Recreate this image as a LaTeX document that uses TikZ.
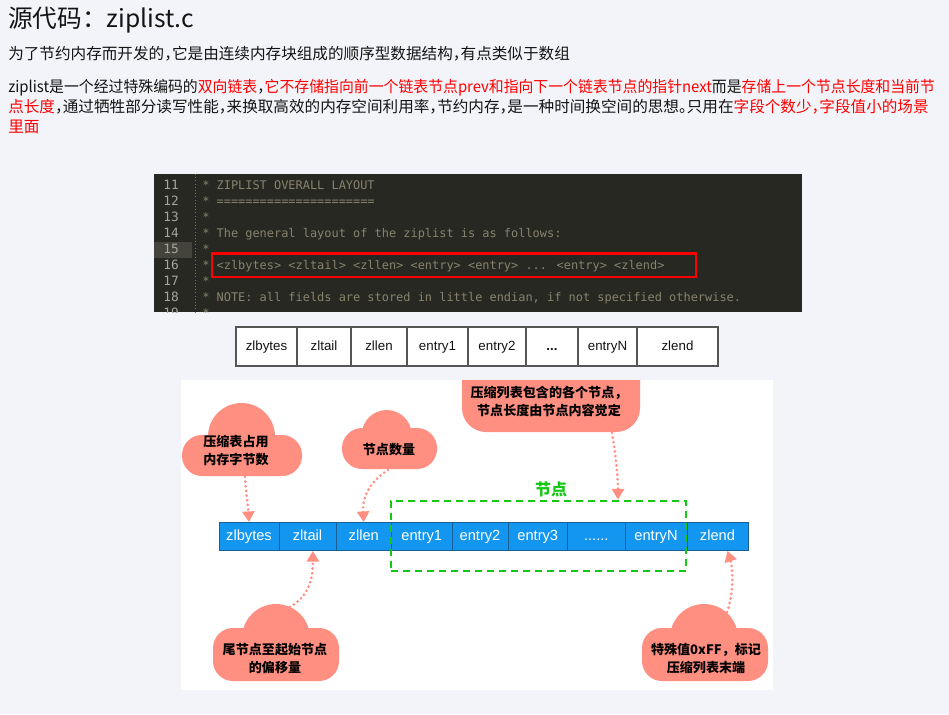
\documentclass[tikz,border=0pt]{standalone}
\usepackage{fontspec}
\setmainfont{Noto Sans CJK SC}
\newfontfamily\cjk{Noto Sans CJK SC}
\newfontfamily\cjkh[RawFeature=+halt]{Noto Sans CJK SC}
\newfontfamily\arialf{Liberation Sans}
\newfontfamily\monof{DejaVu Sans Mono}
\usetikzlibrary{arrows.meta}
\definecolor{pagebg}{RGB}{243,244,249}
\definecolor{codebg}{RGB}{39,40,34}
\definecolor{gutterhl}{RGB}{68,68,60}
\definecolor{comment}{RGB}{135,131,110}
\definecolor{lineno}{RGB}{165,165,155}
\definecolor{zred}{RGB}{255,0,0}
\definecolor{cellborder}{RGB}{85,85,85}
\definecolor{zblue}{RGB}{18,150,240}
\definecolor{zbluedark}{RGB}{25,95,150}
\definecolor{zgreen}{RGB}{20,200,20}
\definecolor{salmon}{RGB}{255,143,128}
\definecolor{txt}{RGB}{20,20,20}
\begin{document}
\begin{tikzpicture}[x=0.75pt,y=-0.75pt,
  title/.style={anchor=west,inner sep=0pt,text=txt,font=\cjk\fontsize{18.5pt}{22pt}\selectfont,text height=16.3pt,text depth=2.2pt},
  body/.style={anchor=west,inner sep=0pt,text=txt,font=\cjkh\fontsize{11.7pt}{14pt}\selectfont,text height=10.3pt,text depth=1.4pt},
  codeln/.style={anchor=west,inner sep=0pt,text=comment,font=\monof\fontsize{8.95pt}{11pt}\selectfont,text height=6.5pt,text depth=1.5pt},
  lnum/.style={anchor=east,inner sep=0pt,text=lineno,font=\monof\fontsize{9.6pt}{11pt}\selectfont,text height=7pt,text depth=1.5pt},
  tcell/.style={draw=cellborder,line width=0.9pt,fill=white,inner sep=0pt,minimum height=29.25pt,minimum width=#1*0.75pt,font=\arialf\fontsize{10pt}{12pt}\selectfont,text=txt,text height=7.5pt,text depth=2pt},
  bcell/.style={draw=zbluedark,line width=0.6pt,fill=zblue,inner sep=0pt,minimum height=21pt,minimum width=#1*0.75pt,font=\arialf\fontsize{11pt}{13pt}\selectfont,text=white,text height=8pt,text depth=2pt},
  cloudtxt/.style={inner sep=0pt,align=center,text=black,font=\cjk\bfseries\fontsize{9.8pt}{13.5pt}\selectfont},
  gbox/.style={draw=zgreen,line width=2.1pt,dash pattern=on 5.25pt off 3.75pt,inner sep=0pt,minimum width=221.25pt,minimum height=52.5pt},
  pointer/.style={draw=salmon,line width=2.2pt,dash pattern=on 0pt off 3.5pt,line cap=round,-{Triangle[length=8pt,width=9pt]}}
]
\useasboundingbox (0,0) rectangle (949,714);
\fill[pagebg] (0,0) rectangle (949,714);

% ---------- text ----------
\node[title] (title) at (8,18) {源代码：ziplist.c};
\node[body] (p1) at (8,54) {为了节约内存而开发的，它是由连续内存块组成的顺序型数据结构，有点类似于数组};
\node[body] (p2a) at (8,87) {\scalebox{0.953}[1]{ziplist是一个经过特殊编码的\textcolor{zred}{双向链表}，\textcolor{zred}{它不存储指向前一个链表节点prev和指向下一个链表节点的指针next}而是\textcolor{zred}{存储上一个节点长度和当前节}}};
\node[body] (p2b) at (8,107) {\textcolor{zred}{点长度}，通过牺牲部分读写性能，来换取高效的内存空间利用率，节约内存，是一种时间换空间的思想。只用在\textcolor{zred}{字段个数少，字段值小的场景}};
\node[body] (p2c) at (8,127) {\textcolor{zred}{里面}};

% ---------- code block ----------
\fill[codebg] (154,174) rectangle (802,312);
\fill[gutterhl] (154,242) rectangle (192,258);
\draw[lineno!60!codebg,line width=0.6pt,dash pattern=on 0.8pt off 1.6pt] (195,174) -- (195,312);
\begin{scope}
\clip (154,174) rectangle (802,312);
\node[lnum] (n11) at (179,186) {11};
\node[lnum] (n12) at (179,202) {12};
\node[lnum] (n13) at (179,218) {13};
\node[lnum] (n14) at (179,234) {14};
\node[lnum] (n15) at (179,250) {15};
\node[lnum] (n16) at (179,266) {16};
\node[lnum] (n17) at (179,282) {17};
\node[lnum] (n18) at (179,298) {18};
\node[lnum] (n19) at (179,314) {19};
\node[codeln] (l11) at (202,186) {* ZIPLIST OVERALL LAYOUT};
\node[codeln] (l12) at (202,202) {* ======================};
\node[codeln] (l13) at (202,218) {*};
\node[codeln] (l14) at (202,234) {* The general layout of the ziplist is as follows:};
\node[codeln] (l15) at (202,250) {*};
\node[codeln] (l16) at (202,266) {* <zlbytes> <zltail> <zllen> <entry> <entry> ... <entry> <zlend>};
\node[codeln] (l17) at (202,282) {*};
\node[codeln] (l18) at (202,298) {* NOTE: all fields are stored in little endian, if not specified otherwise.};
\node[codeln] (l19) at (202,314) {*};
\end{scope}
\draw[zred,line width=2.1pt] (212,253.5) rectangle (696,277);

% ---------- table row ----------
\node[tcell=61] (t1) at (266.5,346.5) {zlbytes};
\node[tcell=54] (t2) at (324,346.5) {zltail};
\node[tcell=56] (t3) at (379,346.5) {zllen};
\node[tcell=61] (t4) at (437.5,346.5) {entry1};
\node[tcell=58] (t5) at (497,346.5) {entry2};
\node[tcell=52] (t6) at (552,346.5) {\bfseries ...};
\node[tcell=59] (t7) at (607.5,346.5) {entryN};
\node[tcell=81] (t8) at (677.5,346.5) {zlend};

% ---------- diagram ----------
\fill[white] (181,380) rectangle (773,690);

% clouds
\begin{scope}
\clip (181,380) rectangle (773,690);
\fill[salmon,rounded corners=18pt] (462,340) rectangle (640,432);
\end{scope}
\fill[salmon,rounded corners=15pt] (182,435) rectangle (302,476);
\fill[salmon] (241.5,436.5) circle (33.5);
\fill[salmon,rounded corners=15pt] (342,428) rectangle (437,469);
\fill[salmon] (386.7,435) circle (25);
\fill[salmon,rounded corners=15pt] (213,628) rectangle (339,681);
\fill[salmon] (276,638) circle (34);
\fill[salmon,rounded corners=15pt] (642,628) rectangle (768,681);
\fill[salmon] (704,638) circle (34);

\node[cloudtxt] (c1) at (236,451) {压缩表占用\\内存字节数};
\node[cloudtxt] (c2) at (389,450) {节点数量};
\node[cloudtxt] (c3) at (549,401) {压缩列表包含的各个节点，\\节点长度由节点内容觉定};
\node[cloudtxt] (c4) at (275,659) {尾节点至起始节点\\的偏移量};
\node[cloudtxt] (c5) at (706,659) {特殊值0xFF，标记\\压缩列表末端};

\coordinate (c1s) at (245,477);
\coordinate (c2s) at (388,470);
\coordinate (c3s) at (612,433);
\coordinate (c4s) at (290,607);
\coordinate (c5s) at (727,612);

% blue bar
\node[bcell=60] (zlbytes) at (249,536.5) {zlbytes};
\node[bcell=57] (zltail) at (307.5,536.5) {zltail};
\node[bcell=55.5] (zllen) at (363.75,536.5) {zllen};
\node[bcell=60.5] (entry1) at (421.75,536.5) {entry1};
\node[bcell=56] (entry2) at (480,536.5) {entry2};
\node[bcell=59.5] (entry3) at (537.75,536.5) {entry3};
\node[bcell=57.5] (dots) at (596.25,536.5) {......};
\node[bcell=62] (entryN) at (656,536.5) {entryN};
\node[bcell=61] (zlend) at (717.5,536.5) {zlend};

% green group
\node[gbox] (entries) at (538.5,536) {};
\node[inner sep=0pt,text=zgreen,font=\cjk\bfseries\fontsize{12pt}{14pt}\selectfont] (jd) at (551,489) {节点};

% pointers
\draw[pointer] (c1s) .. controls (246,495) and (248,505) .. (zlbytes.north);
\draw[pointer] (c2s) .. controls (372,480) and (362,495) .. (zllen.north);
\draw[pointer] (c3s) .. controls (616,455) and (618,480) .. ([xshift=59.6pt]entries.north);
\draw[pointer] (c4s) .. controls (305,598) and (313,585) .. ([xshift=4pt]zltail.south);
\draw[pointer] (c5s) .. controls (735,590) and (732,565) .. ([xshift=7.5pt]zlend.south);
\end{tikzpicture}
\end{document}
